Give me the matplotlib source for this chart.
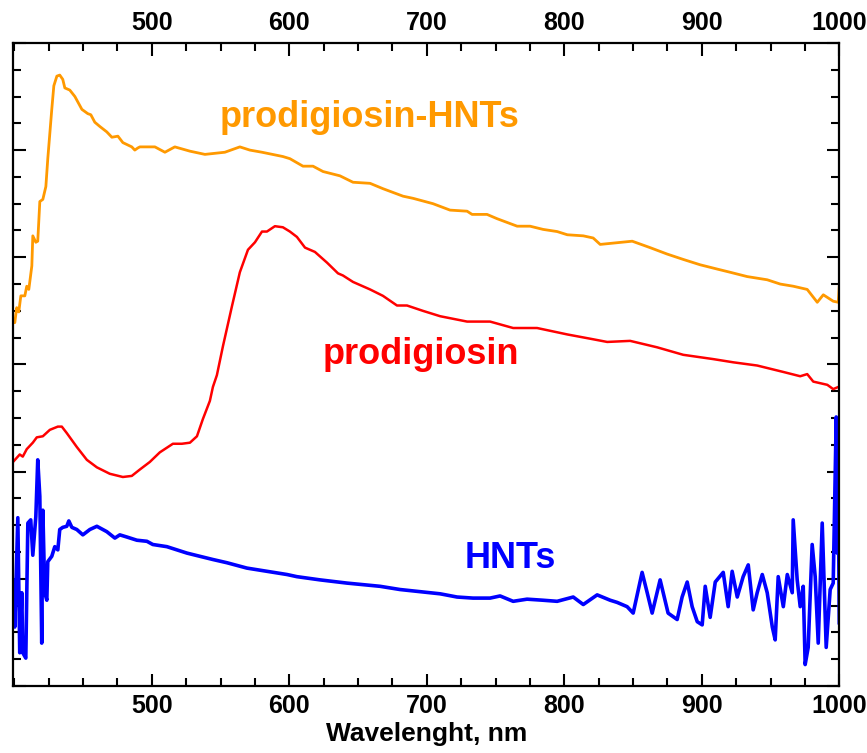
import numpy as np
import matplotlib
matplotlib.use("Agg")
import matplotlib.pyplot as plt
from matplotlib.ticker import MultipleLocator, FixedLocator

plt.rcParams['font.family'] = ['Liberation Sans', 'DejaVu Sans']
plt.rcParams['font.weight'] = 'bold'

# prodigiosin-HNTs (orange)
wl_phnt = [399.0, 400.3, 401.7, 403.2, 404.7, 407.6, 409.0, 410.5, 412.7, 413.4,
           415.6, 417.0, 418.5, 420.7, 422.9, 424.3, 427.2, 428.7, 430.9, 433.0,
           435.2, 436.7, 440.3, 444.0, 449.1, 453.4, 455.6, 458.5, 462.2, 467.2,
           470.9, 475.3, 478.9, 485.4, 487.6, 489.8, 491.3, 502.2, 509.5, 516.7,
           527.7, 538.6, 553.1, 564.0, 571.3, 580.1, 595.3, 600.4, 609.9, 617.2,
           624.5, 636.8, 646.3, 658.7, 668.1, 682.7, 690.0, 704.5, 716.9, 729.3,
           732.9, 743.8, 751.1, 765.7, 775.1, 784.6, 794.8, 802.2, 813.8, 821.0,
           826.1, 849.4, 862.4, 874.8, 886.5, 898.8, 911.2, 920.7, 933.0, 947.6,
           957.1, 966.5, 976.7, 984.0, 988.4, 995.6, 999.3, 1000.0]
int_phnt = [3.39, 3.39, 3.53, 3.49, 3.64, 3.64, 3.73, 3.70, 3.92, 4.20,
            4.14, 4.15, 4.52, 4.54, 4.66, 4.92, 5.38, 5.60, 5.69, 5.70,
            5.66, 5.58, 5.56, 5.50, 5.38, 5.34, 5.33, 5.26, 5.22, 5.17,
            5.12, 5.13, 5.07, 5.03, 5.00, 5.02, 5.03, 5.03, 4.98, 5.03,
            4.99, 4.96, 4.98, 5.03, 5.00, 4.98, 4.94, 4.92, 4.85, 4.85,
            4.80, 4.76, 4.70, 4.69, 4.64, 4.57, 4.55, 4.50, 4.44, 4.43,
            4.40, 4.40, 4.36, 4.29, 4.29, 4.26, 4.24, 4.21, 4.20, 4.18,
            4.12, 4.15, 4.09, 4.03, 3.98, 3.93, 3.89, 3.86, 3.82, 3.79,
            3.75, 3.73, 3.70, 3.58, 3.65, 3.59, 3.58, 3.73]

# prodigiosin (red)
wl_prod = [399.0, 403.9, 406.1, 409.0, 413.4, 416.3, 420.7, 425.8, 431.6, 434.5,
           438.1, 445.4, 452.7, 460.0, 469.4, 478.9, 485.4, 491.3, 498.5, 505.8,
           515.3, 521.8, 527.7, 532.8, 537.1, 542.2, 544.4, 547.3, 551.7, 558.2,
           564.0, 569.9, 575.0, 580.1, 583.7, 589.5, 595.3, 600.4, 605.5, 611.4,
           618.6, 627.4, 635.4, 639.0, 646.3, 658.7, 668.1, 678.3, 685.6, 697.2,
           709.7, 729.3, 746.0, 762.8, 780.2, 802.2, 818.9, 831.2, 847.9, 867.5,
           886.5, 908.3, 922.9, 940.3, 959.3, 971.6, 976.7, 981.1, 991.3, 995.6,
           999.3]
int_prod = [2.09, 2.16, 2.14, 2.21, 2.27, 2.32, 2.33, 2.39, 2.42, 2.42,
            2.36, 2.23, 2.11, 2.04, 1.98, 1.95, 1.96, 2.02, 2.09, 2.18,
            2.26, 2.26, 2.27, 2.33, 2.49, 2.66, 2.79, 2.90, 3.17, 3.54,
            3.86, 4.07, 4.14, 4.24, 4.24, 4.29, 4.28, 4.24, 4.19, 4.09,
            4.05, 3.95, 3.85, 3.83, 3.77, 3.70, 3.64, 3.55, 3.55, 3.50,
            3.45, 3.40, 3.40, 3.34, 3.34, 3.28, 3.24, 3.21, 3.22, 3.16,
            3.09, 3.05, 3.02, 2.99, 2.93, 2.89, 2.91, 2.84, 2.81, 2.77,
            2.79]

# HNTs (blue)
wl_hnt = [399.0, 400.3, 402.5, 403.9, 405.4, 406.1, 408.3, 409.8, 411.9, 413.4,
          415.6, 417.0, 418.5, 419.9, 420.7, 422.1, 423.6, 424.3, 427.2, 429.4,
          431.6, 433.0, 435.2, 438.1, 439.6, 441.8, 445.4, 449.8, 454.9, 460.0,
          467.2, 473.1, 476.7, 481.8, 489.1, 496.4, 500.7, 510.9, 518.2, 525.5,
          534.9, 544.4, 554.6, 569.1, 583.7, 598.3, 605.5, 622.3, 641.9, 666.0,
          680.5, 695.1, 709.7, 722.0, 733.6, 746.0, 753.3, 762.8, 772.9, 784.6,
          794.8, 806.5, 813.8, 823.9, 833.4, 838.4, 845.7, 850.1, 856.6, 860.3,
          863.9, 869.7, 875.5, 882.1, 885.7, 889.4, 893.0, 896.7, 900.3, 902.5,
          906.1, 909.8, 915.6, 919.2, 922.1, 925.8, 930.1, 933.8, 937.4, 940.3,
          944.0, 947.6, 951.3, 953.4, 955.6, 959.3, 962.2, 965.8, 966.5, 969.4,
          971.6, 973.8, 975.2, 977.4, 980.3, 982.5, 984.7, 987.6, 990.5, 993.4,
          995.6, 997.8, 998.5, 999.3, 1000.0]
int_hnt = [0.99, 0.55, 1.57, 0.31, 0.87, 0.31, 0.26, 1.52, 1.55, 1.22,
           1.58, 2.11, 1.77, 0.40, 1.64, 0.87, 0.80, 1.16, 1.21, 1.30,
           1.27, 1.46, 1.48, 1.49, 1.54, 1.48, 1.46, 1.41, 1.46, 1.49,
           1.44, 1.38, 1.41, 1.39, 1.36, 1.35, 1.32, 1.30, 1.27, 1.24,
           1.21, 1.18, 1.15, 1.10, 1.07, 1.04, 1.02, 0.99, 0.96, 0.93,
           0.90, 0.88, 0.86, 0.83, 0.82, 0.82, 0.84, 0.79, 0.81, 0.80,
           0.79, 0.83, 0.76, 0.85, 0.80, 0.78, 0.74, 0.68, 1.06, 0.87,
           0.68, 0.99, 0.68, 0.62, 0.83, 0.97, 0.74, 0.60, 0.57, 0.93,
           0.64, 0.97, 1.06, 0.74, 1.07, 0.83, 1.02, 1.13, 0.71, 0.87,
           1.04, 0.87, 0.55, 0.43, 1.02, 0.74, 1.04, 0.87, 1.55, 0.99,
           0.74, 0.93, 0.20, 0.36, 1.32, 1.02, 0.40, 1.52, 0.36, 0.90,
           0.96, 2.51, 1.24, 1.86, 0.59]

x_major = [500, 600, 700, 800, 900, 1000]

fig = plt.figure(figsize=(8.67, 7.53), dpi=100)
ax = fig.add_axes([0.015, 0.089, 0.953, 0.854])

ax.plot(wl_phnt, int_phnt, color="#FF9900", lw=2.0)
ax.plot(wl_prod, int_prod, color="#FF0000", lw=1.8)
ax.plot(wl_hnt, int_hnt, color="#0000FF", lw=2.6)

# curve labels
ax.text(549.5, 5.22, "prodigiosin-HNTs", color="#FF9900", fontsize=26,
        fontweight="bold", ha="left", va="baseline")
ax.text(624.5, 3.0, "prodigiosin", color="#FF0000", fontsize=26,
        fontweight="bold", ha="left", va="baseline")
ax.text(727.7, 1.10, "HNTs", color="#0000FF", fontsize=26,
        fontweight="bold", ha="left", va="baseline")

ax.set_xlim(399, 1000)
ax.set_ylim(0, 6)
ax.xaxis.set_major_locator(FixedLocator(x_major))
ax.xaxis.set_minor_locator(MultipleLocator(25))
ax.yaxis.set_major_locator(MultipleLocator(1))
ax.yaxis.set_minor_locator(MultipleLocator(0.25))

ax.tick_params(which="both", direction="in", top=True, right=True,
               labeltop=True, labelleft=False, width=1.5)
ax.tick_params(which="major", length=9, pad=6, labelsize=18)
ax.tick_params(which="minor", length=5.5)
for lbl in ax.get_xticklabels():
    lbl.set_fontweight("bold")
for sp in ax.spines.values():
    sp.set_linewidth(1.6)

ax.set_xlabel("Wavelenght, nm", fontsize=19, fontweight="bold", labelpad=3)

fig.savefig("out.png", dpi=100)
